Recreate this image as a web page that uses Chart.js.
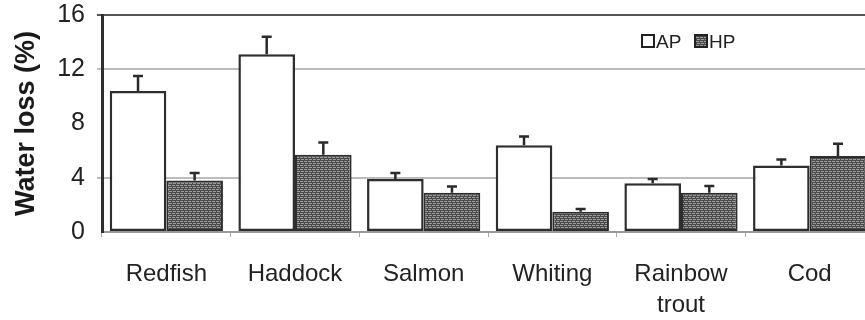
<!DOCTYPE html>
<html>
<head>
<meta charset="utf-8">
<script src="https://cdn.jsdelivr.net/npm/chart.js@4/dist/chart.umd.min.js"></script>
<style>
	html, body { margin: 0; padding: 0; background: #fff; overflow: hidden; }
	#wrap { width: 880px; height: 320px; }
</style>
</head>
<body>
<div id="wrap"><canvas id="chart" width="880" height="320"></canvas></div>
<script>
	// values
	const species = ['Redfish', 'Haddock', 'Salmon', 'Whiting', ['Rainbow', 'trout'], 'Cod'];
	const apLoss = [10.4, 13.1, 3.9, 6.4, 3.6, 4.9];
	const apErr = [1.1, 1.3, 0.45, 0.65, 0.3, 0.45];
	const hpLoss = [3.8, 5.7, 2.9, 1.5, 2.9, 5.6];
	const hpErr = [0.55, 0.9, 0.45, 0.2, 0.5, 0.9];
	const yTicks = [0, 4, 8, 12, 16];

	const FONT = '"Liberation Sans", Arial, sans-serif';

	// dense dark hatching like the printed HP bars
	function hatch() {
		const c = document.createElement('canvas');
		c.width = 4;
		c.height = 4;
		const x = c.getContext('2d');
		x.fillStyle = '#4a4a4a';
		x.fillRect(0, 0, 4, 4);
		x.fillStyle = '#9c9c9c';
		x.fillRect(0, 1, 3, 1);
		x.fillRect(1, 3, 3, 1);
		return x.createPattern(c, 'repeat');
	}

	const errorBars = {
		id: 'errorBars',
		afterDatasetsDraw(chart) {
			const ctx = chart.ctx;
			const y = chart.scales.y;
			const errs = [apErr, hpErr];
			ctx.save();
			ctx.strokeStyle = '#2a2a2a';
			ctx.lineWidth = 2.5;
			chart.data.datasets.forEach((ds, i) => {
				chart.getDatasetMeta(i).data.forEach((bar, j) => {
					const top = y.getPixelForValue(ds.data[j] + errs[i][j]);
					ctx.beginPath();
					ctx.moveTo(bar.x, bar.y);
					ctx.lineTo(bar.x, top);
					ctx.moveTo(bar.x - 5, top);
					ctx.lineTo(bar.x + 5, top);
					ctx.stroke();
				});
			});
			ctx.restore();
		},
	};

	const boxLegend = {
		id: 'boxLegend',
		afterDraw(chart) {
			const ctx = chart.ctx;
			const items = chart.data.datasets;
			let x = 642;
			const y = 35;
			ctx.save();
			ctx.font = '19px ' + FONT;
			ctx.textBaseline = 'middle';
			items.forEach((ds) => {
				ctx.fillStyle = ds.backgroundColor;
				ctx.fillRect(x, y, 12, 12);
				ctx.strokeStyle = '#222';
				ctx.lineWidth = 2;
				ctx.strokeRect(x, y, 12, 12);
				ctx.fillStyle = '#222';
				ctx.fillText(ds.label, x + 14, y + 8);
				x += 53;
			});
			ctx.restore();
		},
	};

	new Chart(document.getElementById('chart'), {
		type: 'bar',
		data: {
			labels: species,
			datasets: [
				{ label: 'AP', data: apLoss, backgroundColor: '#ffffff', borderColor: '#2e2e2e', borderWidth: 2.5, borderSkipped: false },
				{ label: 'HP', data: hpLoss, backgroundColor: hatch(), borderColor: '#2e2e2e', borderWidth: 2, borderSkipped: false },
			],
		},
		options: {
			responsive: false,
			animation: false,
			events: [],
			categoryPercentage: 0.88,
			barPercentage: 1,
			layout: { padding: { top: 15, right: 6, left: 0, bottom: 0 } },
			plugins: {
				legend: { display: false },
				tooltip: { enabled: false },
			},
			scales: {
				x: {
					border: { color: '#999', width: 2 },
					grid: { drawOnChartArea: false, tickLength: 5, color: '#aaa' },
					ticks: { color: '#222', padding: 22, font: { family: FONT, size: 24, lineHeight: 1.3 } },
					afterFit: (s) => { s.height = 88; },
				},
				y: {
					min: 0,
					max: 16,
					afterBuildTicks: (s) => { s.ticks = yTicks.map((v) => ({ value: v })); },
					border: { color: '#2e2e2e', width: 3 },
					grid: {
						lineWidth: 2,
						tickLength: 5,
						color: (c) => {
							const v = c.tick && c.tick.value;
							if (v === 16) return '#555';
							if (v === 4 || v === 12) return '#bcbcbc';
							return 'rgba(0,0,0,0)';
						},
					},
					ticks: { color: '#222', padding: 12, font: { family: FONT, size: 25 } },
					title: {
						display: true,
						text: 'Water loss (%)',
						color: '#1a1a1a',
						padding: { top: 10, bottom: 0 },
						font: { family: FONT, size: 27, weight: 'bold' },
					},
					afterFit: (s) => {
						s.width = 102;
						s.paddingTop = 0;
						s.paddingBottom = 0;
					},
				},
			},
		},
		plugins: [errorBars, boxLegend],
	});
</script>
</body>
</html>
